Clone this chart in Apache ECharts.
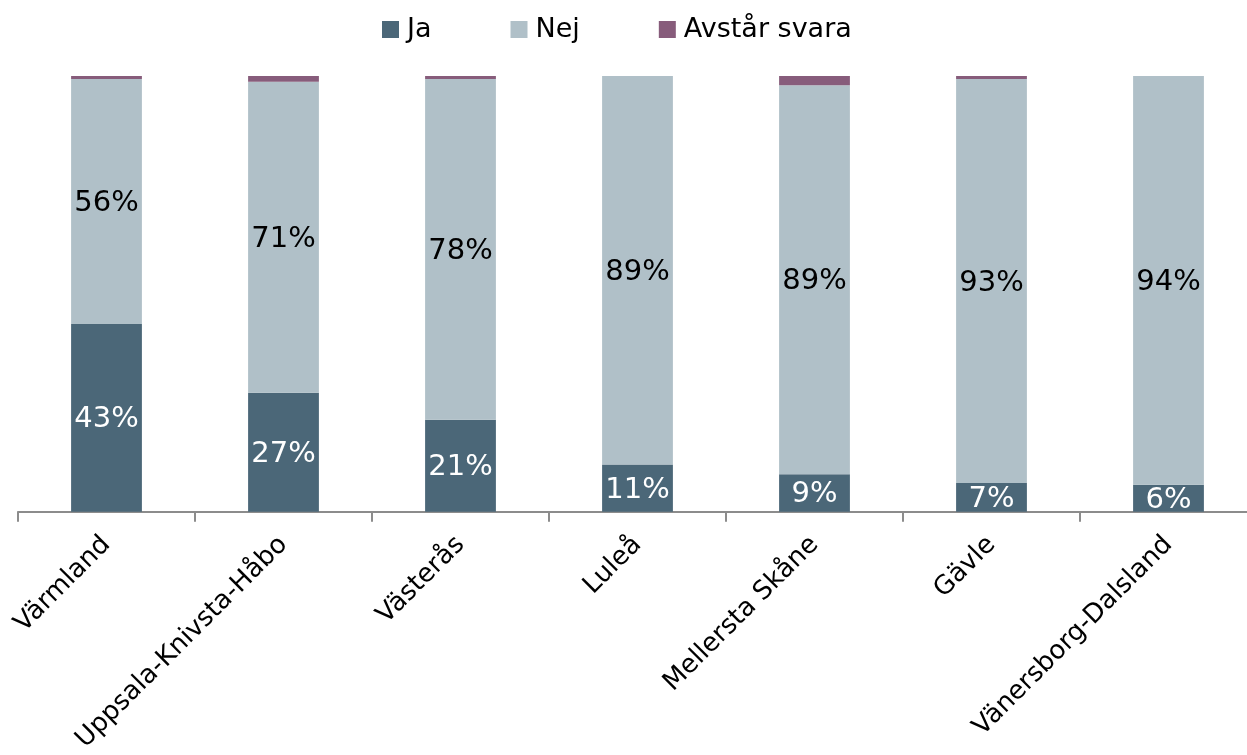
<!DOCTYPE html>
<html>
<head>
<meta charset="utf-8">
<script src="https://cdn.jsdelivr.net/npm/echarts@6/dist/echarts.min.js"></script>
<style>
html,body{margin:0;padding:0;background:#fff;overflow:hidden;width:1247px;height:755px;}
#chart{width:1270px;height:755px;}
</style>
</head>
<body>
<div id="chart"></div>
<script>
const categories = ['Värmland', 'Uppsala-Knivsta-Håbo', 'Västerås', 'Luleå', 'Mellersta Skåne', 'Gävle', 'Vänersborg-Dalsland'];
const ja = [43.1, 27.3, 21.1, 10.8, 8.6, 6.6, 6.2];
const nej = [56.2, 71.4, 78.2, 89.2, 89.3, 92.7, 93.8];
const avstar = [0.7, 1.3, 0.7, 0, 2.1, 0.7, 0];

const FONT = '"DejaVu Sans", Verdana, sans-serif';
const fmt = p => Math.round(p.value) + '%';

const chart = echarts.init(document.getElementById('chart'), null, {renderer: 'canvas'});
chart.setOption({
  animation: false,
  textStyle: {fontFamily: FONT},
  legend: {
    left: 382,
    top: 16,
    padding: 0,
    itemWidth: 17,
    itemHeight: 17,
    itemGap: 79,
    icon: 'rect',
    textStyle: {fontFamily: FONT, fontSize: 27, color: '#000', padding: [0, 0, 0, 3]},
    data: ['Ja', 'Nej', 'Avstår svara']
  },
  grid: {left: 18, top: 76, width: 1239, height: 437, containLabel: false},
  xAxis: {
    type: 'category',
    data: categories,
    axisLine: {lineStyle: {color: '#8c8c8c', width: 2}},
    axisTick: {show: true, length: 10, lineStyle: {color: '#8c8c8c', width: 2}},
    axisLabel: {rotate: 45, margin: 29, fontFamily: FONT, fontSize: 26, color: '#000', interval: 0}
  },
  yAxis: {
    type: 'value', min: 0, max: 100, show: false,
    splitLine: {show: false}
  },
  series: [
    {
      name: 'Ja', type: 'bar', stack: 's', barWidth: '40%', data: ja,
      itemStyle: {color: '#4b6778'},
      label: {show: true, position: 'inside', offset: [0, 2], formatter: fmt, color: '#fff', fontFamily: FONT, fontSize: 29}
    },
    {
      name: 'Nej', type: 'bar', stack: 's', barWidth: '40%', data: nej,
      itemStyle: {color: '#b0c0c8'},
      label: {show: true, position: 'inside', offset: [0, 2], formatter: fmt, color: '#000', fontFamily: FONT, fontSize: 29}
    },
    {
      name: 'Avstår svara', type: 'bar', stack: 's', barWidth: '40%', data: avstar,
      itemStyle: {color: '#875c7b'},
      label: {show: false}
    }
  ]
});
</script>
</body>
</html>
